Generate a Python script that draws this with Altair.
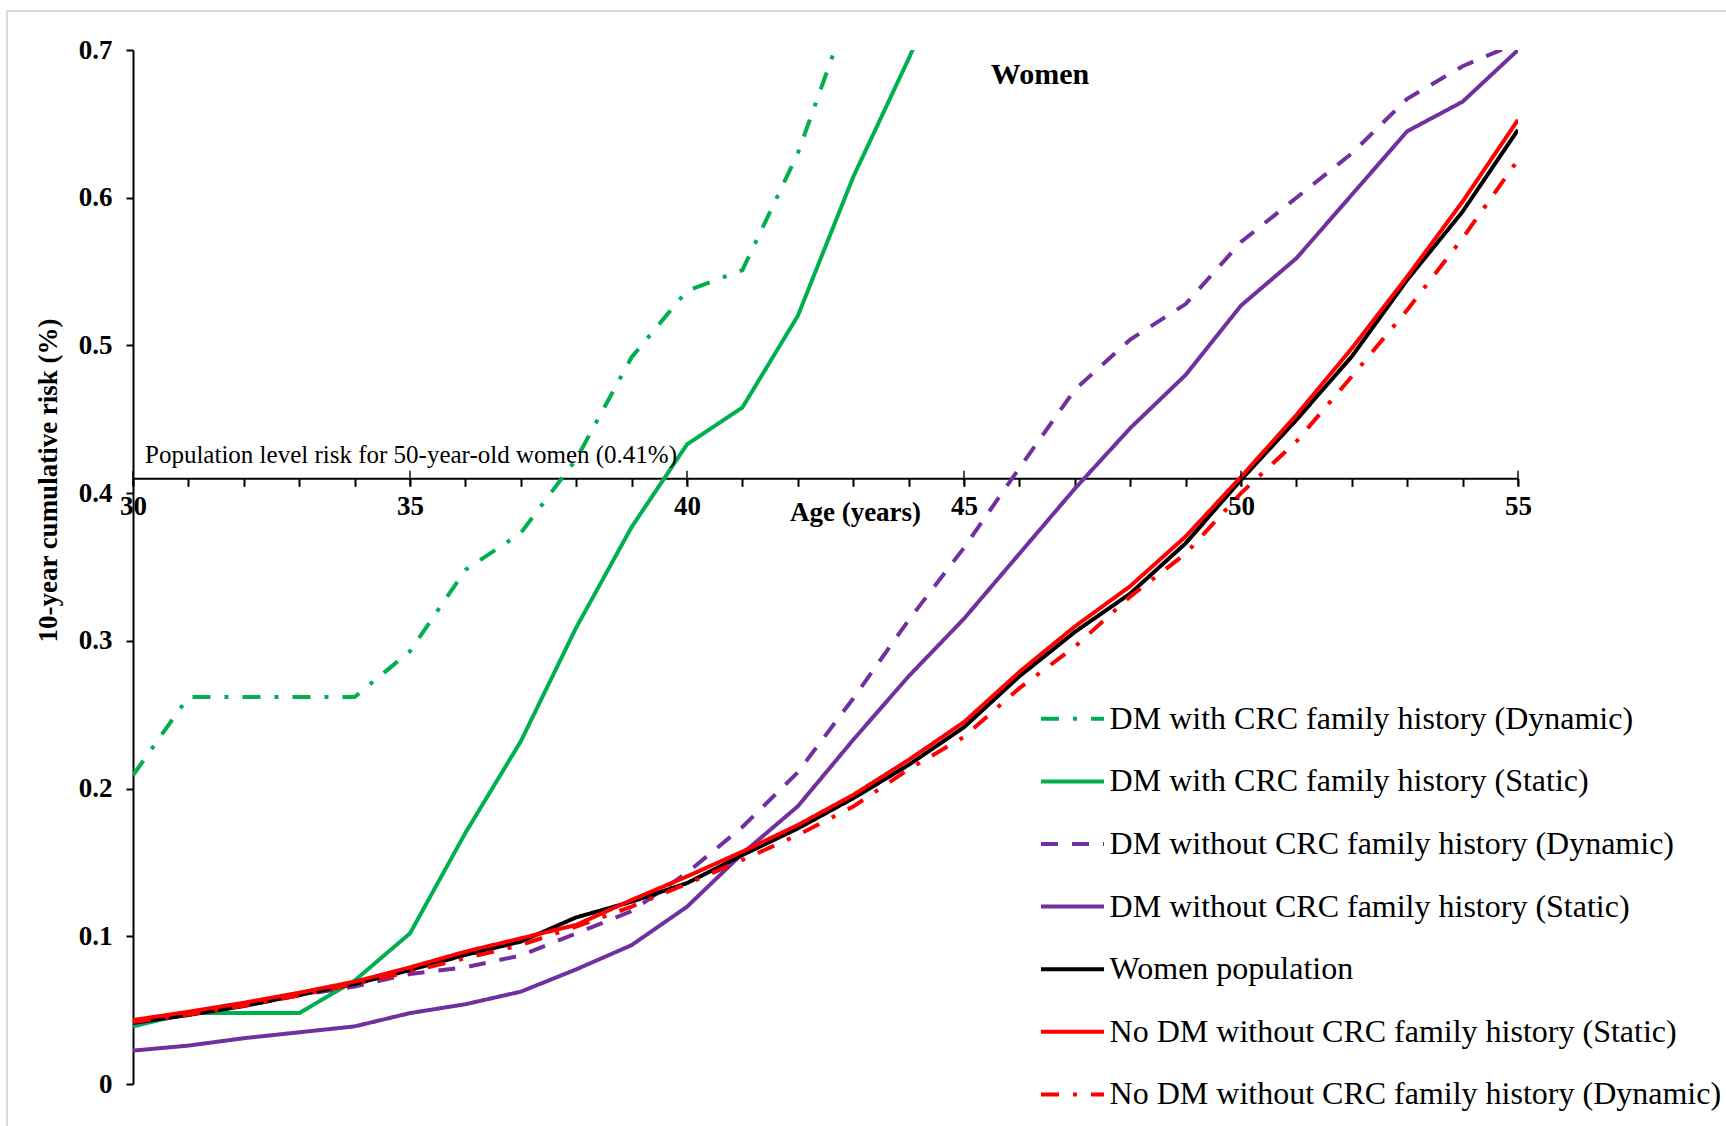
import altair as alt
import pandas as pd

# ---------------- data ----------------
ages = list(range(30, 56))

series_names = [
    "DM with CRC family history (Dynamic)",
    "DM with CRC family history (Static)",
    "DM without CRC family history (Dynamic)",
    "DM without CRC family history (Static)",
    "Women population",
    "No DM without CRC family history (Static)",
    "No DM without CRC family history (Dynamic)",
]

dm_fh_dynamic = [0.209, 0.262, 0.262, 0.262, 0.262, 0.293, 0.348, 0.373, 0.423,
                 0.492, 0.537, 0.551, 0.630, 0.735]
dm_fh_static = [0.039, 0.048, 0.048, 0.048, 0.070, 0.102, 0.170, 0.232, 0.309,
                0.377, 0.433, 0.458, 0.520, 0.614, 0.694, 0.780]
dm_nofh_dynamic = [0.041, 0.047, 0.053, 0.060, 0.066, 0.0745, 0.079, 0.087, 0.102,
                   0.117, 0.143, 0.174, 0.211, 0.261, 0.314, 0.363, 0.417, 0.470,
                   0.504, 0.528, 0.570, 0.600, 0.630, 0.667, 0.689, 0.705]
dm_nofh_static = [0.0226, 0.026, 0.031, 0.035, 0.039, 0.048, 0.054, 0.0625, 0.0776,
                  0.094, 0.120, 0.156, 0.188, 0.233, 0.276, 0.315, 0.359, 0.403,
                  0.444, 0.480, 0.527, 0.559, 0.602, 0.645, 0.665, 0.700]
women_population = [0.0415, 0.0467, 0.0528, 0.0603, 0.0677, 0.0772, 0.0874, 0.0964,
                    0.1128, 0.1234, 0.136, 0.155, 0.173, 0.1934, 0.216, 0.2415,
                    0.276, 0.306, 0.332, 0.366, 0.409, 0.4496, 0.4925, 0.5444,
                    0.5906, 0.646]
nodm_nofh_static = [0.0433, 0.0489, 0.055, 0.0618, 0.0693, 0.079, 0.0896, 0.0986,
                    0.1077, 0.1246, 0.1405, 0.1573, 0.1753, 0.1957, 0.2194, 0.245,
                    0.279, 0.3097, 0.337, 0.3706, 0.411, 0.4529, 0.498, 0.5466,
                    0.5974, 0.6527]
nodm_nofh_dynamic = [0.042, 0.047, 0.053, 0.060, 0.0677, 0.076, 0.0851, 0.0941,
                     0.1065, 0.1201, 0.1355, 0.1517, 0.1686, 0.1878, 0.213, 0.235,
                     0.268, 0.296, 0.330, 0.359, 0.400, 0.435, 0.479, 0.524,
                     0.5726, 0.6256]

series_values = [dm_fh_dynamic, dm_fh_static, dm_nofh_dynamic, dm_nofh_static,
                 women_population, nodm_nofh_static, nodm_nofh_dynamic]

y_ticks = [0, 0.1, 0.2, 0.3, 0.4, 0.5, 0.6, 0.7]
x_major_ticks = [30, 35, 40, 45, 50, 55]
population_risk = 0.41
population_label = "Population level risk for 50-year-old women (0.41%)"
panel_title = "Women"

# ---------------- styles ----------------
colors = ["#00B050", "#00B050", "#7030A0", "#7030A0", "#000000", "#FF0000", "#FF0000"]
dashes = [[18, 14, 4, 14], [1, 0], [17, 14], [1, 0], [1, 0], [1, 0], [18, 14, 4, 14]]
widths = [4, 4, 4, 4, 4.5, 4.5, 4.5]

FONT = "Liberation Serif"
W, H = 1385, 1034
Y_MAX = 0.7

rows = []
for name, vals in zip(series_names, series_values):
    for a, v in zip(ages, vals):
        rows.append({"series": name, "age": a, "risk": v})
df = pd.DataFrame(rows)

legend = alt.Legend(
    title=None, orient="none", legendX=908, legendY=652.8,
    symbolType="M-3,0H3", symbolSize=441, symbolStrokeWidth=4,
    symbolOffset=15.5, labelOffset=21.1, labelFontSize=32, labelFont=FONT,
    labelColor="black", labelLimit=900, rowPadding=30.6, padding=0,
)

x_axis = alt.Axis(
    values=ages,
    labelExpr="datum.value % 5 === 0 ? datum.label : ''",
    labelOverlap=False, labelFlush=False,
    offset=-(H * population_risk / Y_MAX),
    tickSize=8, tickWidth=2, tickColor="black",
    domainWidth=2, domainColor="black",
    labelFont=FONT, labelFontSize=27, labelFontWeight="bold", labelColor="black",
    labelPadding=7, grid=False,
    title="Age (years)", titleFont=FONT, titleFontSize=27, titleFontWeight="bold",
    titleColor="black", titleX=722, titleY=34, titleBaseline="middle", titleAlign="center",
)

y_axis = alt.Axis(
    values=y_ticks, format="~g",
    tickSize=7, tickWidth=2, tickColor="black",
    domainWidth=2, domainColor="black",
    labelFont=FONT, labelFontSize=27, labelFontWeight="bold", labelColor="black",
    labelPadding=14, grid=False,
    title="10-year cumulative risk (%)", titleFont=FONT, titleFontSize=27,
    titleFontWeight="bold", titleColor="black", titleAngle=270,
    titleX=-85, titleY=430, titleBaseline="middle", titleAlign="center",
)

x_enc = alt.X("age:Q", scale=alt.Scale(domain=[30, 55], nice=False, zero=False), axis=x_axis)
y_enc = alt.Y("risk:Q", scale=alt.Scale(domain=[0, Y_MAX], nice=False), axis=y_axis)

lines = alt.Chart(df).mark_line(clip=True).encode(
    x=x_enc,
    y=y_enc,
    color=alt.Color("series:N", scale=alt.Scale(domain=series_names, range=colors), legend=legend),
    strokeDash=alt.StrokeDash("series:N", scale=alt.Scale(domain=series_names, range=dashes), legend=legend),
    strokeWidth=alt.StrokeWidth("series:N", scale=alt.Scale(domain=series_names, range=widths), legend=None),
)

major_ticks = alt.Chart(pd.DataFrame({"age": x_major_ticks})).mark_tick(
    orient="vertical", size=15, thickness=2, color="black"
).encode(
    x=x_enc,
    y=alt.datum(population_risk),
)

one = pd.DataFrame({"k": [0]})

pop_text = alt.Chart(one).mark_text(
    text=population_label, align="left", baseline="alphabetic", dy=-15,
    font=FONT, fontSize=25, color="black",
).encode(x=alt.value(12), y=alt.datum(population_risk))

women_text = alt.Chart(one).mark_text(
    text=panel_title, align="center", baseline="middle",
    font=FONT, fontSize=30, fontWeight="bold", color="black",
).encode(x=alt.value(907), y=alt.value(25))

frame = alt.Chart(one).mark_rect(filled=False, stroke="#D9D9D9", strokeWidth=2).encode(
    x=alt.value(-126), x2=alt.value(1603), y=alt.value(-39), y2=alt.value(1086)
)

chart = alt.layer(frame, lines, major_ticks, pop_text, women_text).properties(
    width=W, height=H,
    autosize=alt.AutoSizeParams(type="none"),
    padding={"left": 133, "top": 50, "right": 208, "bottom": 42},
    background="white",
).configure_view(stroke=None)

chart.save("out.html", embed_options={"renderer": "svg", "actions": False})
